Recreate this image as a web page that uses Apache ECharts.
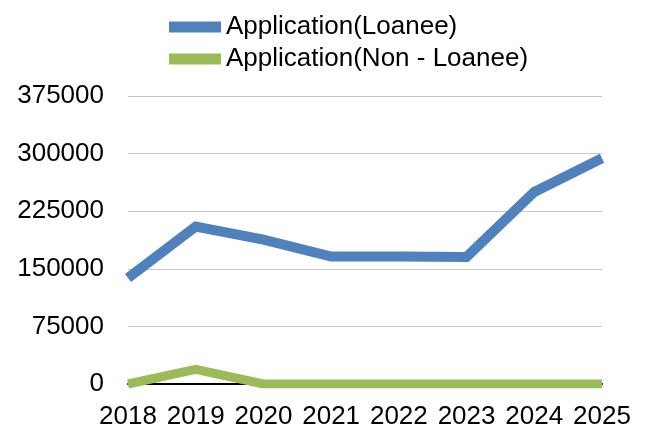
<!DOCTYPE html>
<html>
<head>
<meta charset="utf-8">
<script src="https://cdn.jsdelivr.net/npm/echarts@6/dist/echarts.min.js"></script>
<style>
  html, body { margin: 0; padding: 0; background: #fff; }
  #main { width: 646px; height: 430px; }
</style>
</head>
<body>
<div id="main"></div>
<script>
const years = ['2018', '2019', '2020', '2021', '2022', '2023', '2024', '2025'];
const loanee = [138000, 205000, 188000, 166000, 166000, 165500, 250000, 294000];
const nonLoanee = [0, 19000, 0, 0, 0, 0, 0, 0];
const yTicks = { min: 0, max: 375000, interval: 75000 };

const font = 'Arial, "Liberation Sans", sans-serif';
const chart = echarts.init(document.getElementById('main'));

chart.setOption({
  animation: false,
  legend: {
    orient: 'vertical',
    left: 164,
    top: 9,
    itemWidth: 52,
    itemHeight: 11,
    itemGap: 6,
    icon: 'rect',
    textStyle: { fontFamily: font, fontSize: 26, color: '#000' },
    data: ['Application(Loanee)', 'Application(Non - Loanee)']
  },
  grid: { left: 128, right: 44, top: 96, bottom: 46, containLabel: false },
  xAxis: {
    type: 'category',
    boundaryGap: false,
    data: years,
    axisLine: { lineStyle: { color: '#000', width: 2 } },
    axisTick: { show: false },
    axisLabel: { fontFamily: font, fontSize: 26, color: '#000', margin: 20, interval: 0 }
  },
  yAxis: {
    type: 'value',
    min: yTicks.min,
    max: yTicks.max,
    interval: yTicks.interval,
    axisLine: { show: false },
    axisTick: { show: false },
    splitLine: { lineStyle: { color: '#c8c8c8', width: 1 } },
    axisLabel: {
      fontFamily: font, fontSize: 26, color: '#000', margin: 24,
      formatter: v => String(v)
    }
  },
  series: [
    {
      name: 'Application(Loanee)',
      type: 'line',
      data: loanee,
      symbol: 'none',
      color: '#4f81bd',
      lineStyle: { width: 10, cap: 'butt', join: 'miter' }
    },
    {
      name: 'Application(Non - Loanee)',
      type: 'line',
      data: nonLoanee,
      symbol: 'none',
      color: '#9bbb59',
      lineStyle: { width: 9, cap: 'butt', join: 'miter' }
    }
  ]
});
</script>
</body>
</html>
